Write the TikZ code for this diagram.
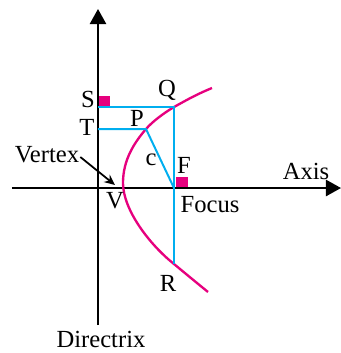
\documentclass[tikz,border=0pt]{standalone}
\usepackage{fontspec}
\setmainfont{Liberation Serif}
\usepackage{xcolor}
\usepackage{tikz}
\usetikzlibrary{arrows.meta}

\definecolor{skyline}{RGB}{0,174,239}
\definecolor{parab}{RGB}{230,0,126}

\begin{document}
\begin{tikzpicture}[x=0.03cm, y=-0.03cm,
  every node/.style={inner sep=0pt, font=\fontsize{21}{24}\selectfont},
  blk/.style={line width=1.7pt, black},
  cyanline/.style={line width=1.7pt, skyline},
  sqr/.style={fill=parab, draw=none}]
\useasboundingbox (0,0) rectangle (341,353);

\coordinate (V) at (123,183);
\coordinate (F) at (174,188);
\coordinate (P) at (146,129);
\coordinate (Q) at (174,107);
\coordinate (R) at (174,264);
\coordinate (S) at (98,107);
\coordinate (T) at (98,129);
\coordinate (vtip) at (115,185);

% directrix and axis
\draw[blk, -{Triangle[length=13pt, width=14pt]}] (98,325) -- (98,9);
\draw[blk, -{Triangle[length=13pt, width=14pt]}] (12,188) -- (341,188);

% the parabola
\draw[parab, line width=2pt] (212,88) .. controls (195,95) and (185,101) .. (Q)
  .. controls (164,113) and (153,121) .. (P)
  .. controls (134,143) and (123,160) .. (V)
  .. controls (123,210) and (150,245) .. (R)
  .. controls (186,274) and (197,283) .. (208,292);

\draw[cyanline] (S) -- (Q) -- (R);
\draw[cyanline] (T) -- (P) -- (F);

\fill[sqr] (99,96) rectangle (110,106);
\fill[sqr] (176,177) rectangle (188,187);

\node (s) at (88,99) {S};
\node (t) at (87,127) {T};
\node (q) at (167,90) {Q};
\node (p) at (137,118) {P};
\node (c) at (151,160) {c};
\node (f) at (184,165) {F};
\node (focus) at (210,205) {Focus};
\node (v) at (115,201) {V};
\node (r) at (168,283) {R};
\node (axis) at (306,171) {Axis};
\node (dir) at (101,339) {Directrix};
\node (vtx) at (47,155) {Vertex};
\draw[line width=1.5pt, -{Stealth[length=9pt, width=8pt]}] (vtx.east) ++(1,2) -- (vtip);
\end{tikzpicture}
\end{document}
